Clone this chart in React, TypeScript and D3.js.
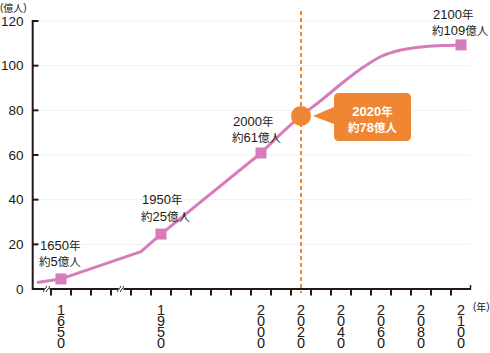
import React from "react";
import * as d3 from "d3";

const lineYears = [1638, 1650, 1940, 1950, 2000, 2020, 2030, 2040, 2050, 2060, 2070, 2080, 2090, 2100];
const lineValues = [2.9, 4.5, 16.7, 24.6, 60.9, 77.5, 84.4, 91.8, 98.6, 104.1, 107.0, 108.4, 109.0, 109.3];

const markerYears = [1650, 1950, 2000, 2100];
const markerValues = [4.5, 24.6, 60.9, 109.3];
const markerLabels = [
  ["1650年", "約5億人"],
  ["1950年", "約25億人"],
  ["2000年", "約61億人"],
  ["2100年", "約109億人"],
];

const highlightYear = 2020;
const highlightValue = 77.5;
const highlightLabel = ["2020年", "約78億人"];

const yTicks = [0, 20, 40, 60, 80, 100, 120];
const xLabelYears = [1650, 1950, 2000, 2020, 2040, 2060, 2080, 2100];
const xTickYears = [1645, 1655, 1665, 1675, 1935, 1945, 1955, 1965, 1975, 1985, 1995, 2005, 2015, 2025, 2035, 2045, 2055, 2065, 2075, 2085, 2095];
const breakYears = [1643, 1680];

const W = 490;
const H = 353;
const INK = "#231815";
const PINK = "#d77cba";
const ORANGE = "#ef8633";
const LATIN = "'Liberation Sans', Arial, sans-serif";
const CJK = "'Noto Sans CJK JP', sans-serif";

function MixedText(props: { text: string; latinSize: number; cjkSize: number; weight?: number }) {
  const runs: { s: string; cjk: boolean }[] = [];
  for (const ch of props.text) {
    const isCjk = ch.charCodeAt(0) > 0x2000;
    const last = runs[runs.length - 1];
    if (last && last.cjk === isCjk) last.s += ch;
    else runs.push({ s: ch, cjk: isCjk });
  }
  return (
    <>
      {runs.map((r, i) => (
        <tspan key={i} fontFamily={r.cjk ? CJK : LATIN} fontSize={r.cjk ? props.cjkSize : props.latinSize} fontWeight={props.weight}>
          {r.s}
        </tspan>
      ))}
    </>
  );
}

export default function App() {
  const x = d3.scaleLinear().domain([1636, 1680, 1930, 2105]).range([33, 121, 121, 471]);
  const y = d3.scaleLinear().domain([0, 120]).range([289, 21]);

  const pts = lineYears.map((yr, i) => [x(yr), y(lineValues[i])] as [number, number]);
  const idx2000 = lineYears.indexOf(2000);
  const linA = d3.line().curve(d3.curveLinear)(pts.slice(0, idx2000 + 1)) || "";
  const linB = d3.line().curve(d3.curveMonotoneX)(pts.slice(idx2000)) || "";

  const offsets: [number, number][] = [
    [-21, -34],
    [-19, -35],
    [-28, -32],
    [-28, -31],
  ];

  const hx = x(highlightYear);
  const hy = y(highlightValue);
  const bx0 = hx + 33, bx1 = hx + 110, by0 = hy - 23, by1 = hy + 25;
  const r = 5;
  const calloutPath = `M${bx0 + r},${by0} H${bx1 - r} Q${bx1},${by0} ${bx1},${by0 + r} V${by1 - r} Q${bx1},${by1} ${bx1 - r},${by1} H${bx0 + r} Q${bx0},${by1} ${bx0},${by1 - r} V${hy + 8} L${hx + 12},${hy} L${bx0},${hy - 9} V${by0 + r} Q${bx0},${by0} ${bx0 + r},${by0} Z`;
  const cx = (bx0 + bx1) / 2;

  return (
    <svg width={W} height={H} style={{ position: "absolute", left: 0, top: 0, background: "#fff" }} fontFamily={LATIN}>
      {/* grid */}
      {yTicks.filter((t) => t > 0).map((t) => (
        <line key={"g" + t} x1={38} x2={470} y1={y(t)} y2={y(t)} stroke="#edf0f5" strokeWidth={1} />
      ))}
      {/* dashed highlight line */}
      <line x1={hx} x2={hx} y1={11} y2={293} stroke={ORANGE} strokeWidth={2} strokeDasharray="4 3" />
      {/* axes */}
      <line x1={32.7} x2={32.7} y1={20} y2={290} stroke={INK} strokeWidth={2} />
      {yTicks.map((t) => (
        <line key={"yt" + t} x1={33} x2={38.5} y1={y(t)} y2={y(t)} stroke={INK} strokeWidth={2} />
      ))}
      <line x1={32} x2={471} y1={289} y2={289} stroke={INK} strokeWidth={2} />
      {xTickYears.map((yr) => (
        <line key={"xt" + yr} x1={x(yr)} x2={x(yr)} y1={289} y2={295.5} stroke={INK} strokeWidth={2} />
      ))}
      <line x1={470.5} x2={470.5} y1={285} y2={289} stroke={INK} strokeWidth={1.5} />
      {/* break marks */}
      {breakYears.map((yr) => {
        const bx = x(yr);
        return (
          <g key={"b" + yr}>
            <rect x={bx - 2.5} y={286} width={5} height={6} fill="#fff" />
            <path d={`M${bx - 3.5},${292} q0,-2 1.5,-3 q1.5,-1 1.5,-3`} fill="none" stroke={INK} strokeWidth={0.9} />
            <path d={`M${bx - 0.5},${292} q0,-2 1.5,-3 q1.5,-1 1.5,-3`} fill="none" stroke={INK} strokeWidth={0.9} />
          </g>
        );
      })}
      {/* y tick labels */}
      {yTicks.map((t) => (
        <text key={"yl" + t} x={23.5} y={y(t)} textAnchor="end" dominantBaseline="central" fontSize={13.5} fill={INK}>
          {t}
        </text>
      ))}
      <text x={0} y={7} dominantBaseline="central" fill={INK}>
        <MixedText text="(億人)" latinSize={10} cjkSize={10} />
      </text>
      {/* x labels, vertical digits */}
      {xLabelYears.map((yr) => (
        <text
          key={"xl" + yr}
          x={x(yr)}
          y={302}
          fontSize={14.5}
          fill={INK}
          style={{ writingMode: "vertical-rl", textOrientation: "upright", letterSpacing: "-4.95px" } as any}
        >
          {String(yr)}
        </text>
      ))}
      <text x={473} y={306} dominantBaseline="central" fill={INK}>
        <MixedText text="(年)" latinSize={10} cjkSize={10} />
      </text>
      {/* line */}
      <path d={linA} fill="none" stroke={PINK} strokeWidth={3} strokeLinejoin="round" />
      <path d={linB} fill="none" stroke={PINK} strokeWidth={3} strokeLinejoin="round" />
      {/* markers */}
      {markerYears.map((yr, i) => (
        <rect key={"m" + yr} x={x(yr) - 5.5} y={y(markerValues[i]) - 5.5} width={11} height={11} fill={PINK} />
      ))}
      {/* marker labels */}
      {markerYears.map((yr, i) => {
        const lx = x(yr) + offsets[i][0];
        const ly = y(markerValues[i]) + offsets[i][1];
        return (
          <g key={"ml" + yr}>
            <text x={lx} y={ly} dominantBaseline="central" fill={INK}>
              <MixedText text={markerLabels[i][0]} latinSize={13} cjkSize={11.5} />
            </text>
            <text x={lx - 1} y={ly + 16.5} dominantBaseline="central" fill={INK}>
              <MixedText text={markerLabels[i][1]} latinSize={13} cjkSize={11.5} />
            </text>
          </g>
        );
      })}
      {/* highlight */}
      <path d={calloutPath} fill={ORANGE} />
      <circle cx={hx} cy={hy} r={10} fill={ORANGE} />
      <text x={cx} y={hy - 4.5} textAnchor="middle" dominantBaseline="central" fill="#fff">
        <MixedText text={highlightLabel[0]} latinSize={13} cjkSize={11.5} weight={700} />
      </text>
      <text x={cx} y={hy + 11} textAnchor="middle" dominantBaseline="central" fill="#fff">
        <MixedText text={highlightLabel[1]} latinSize={13} cjkSize={11.5} weight={700} />
      </text>
    </svg>
  );
}
